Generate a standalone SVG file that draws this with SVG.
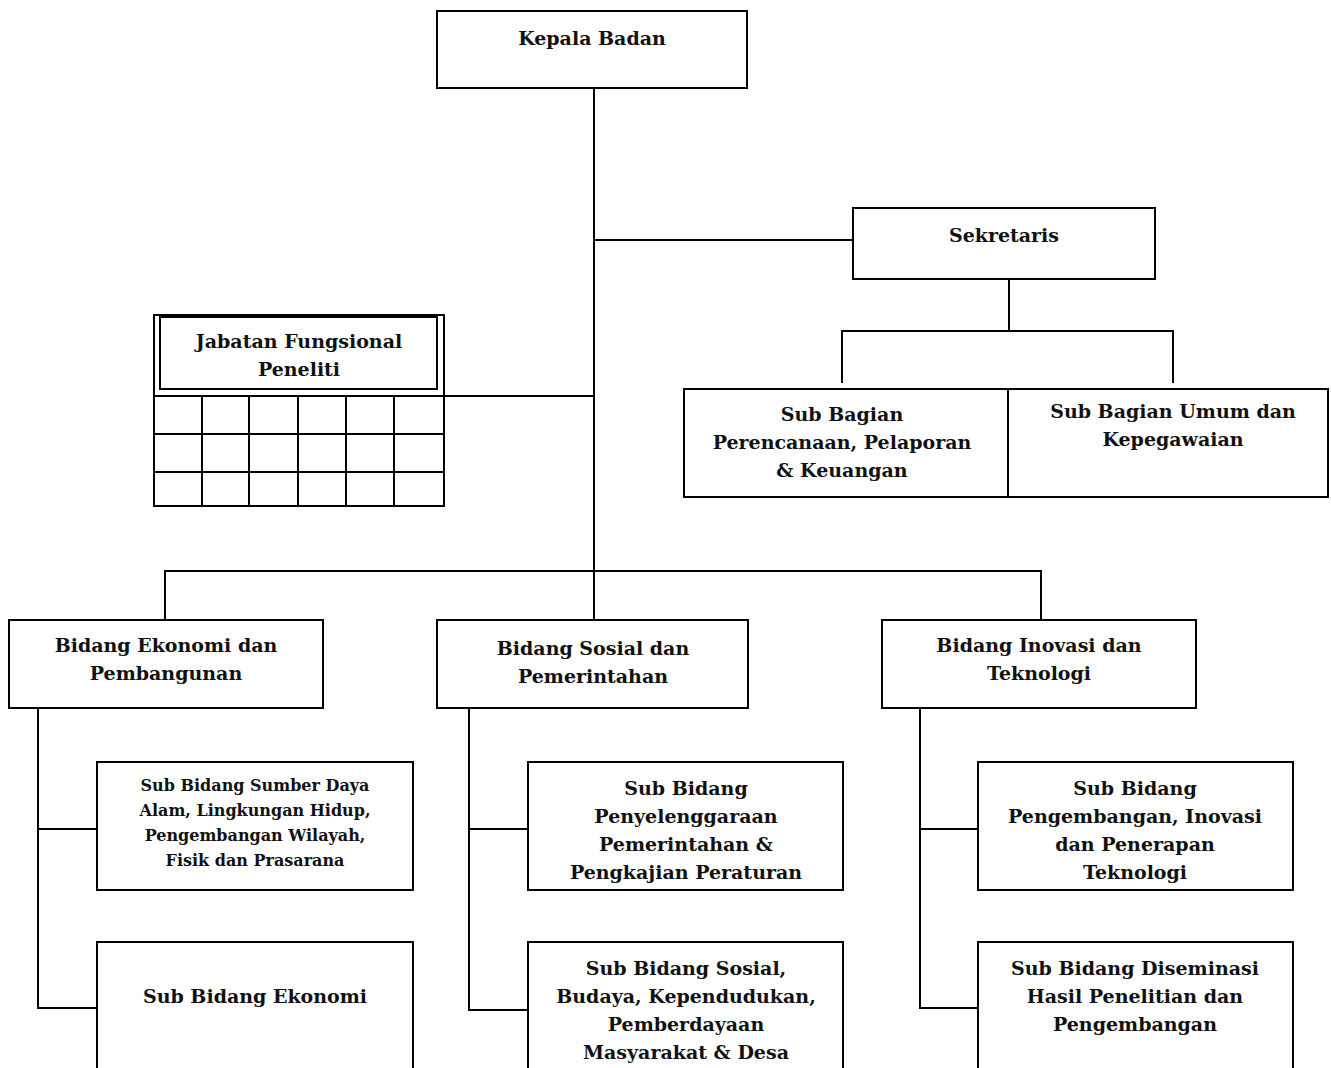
<svg xmlns="http://www.w3.org/2000/svg" width="1331" height="1068" viewBox="0 0 1331 1068">
<style>
.b{fill:#fff;stroke:#000;stroke-width:2}
.l{fill:none;stroke:#000;stroke-width:2}
text{font-family:"DejaVu Serif","Liberation Serif",serif;font-weight:bold;font-size:19px;text-anchor:middle;fill:#111}
.s{font-size:16px}
</style>
<rect width="1331" height="1068" fill="#fff"/>
<g id="connectors">
<path class="l" d="M594,88V620M594,240H853M1009,279V331M842,383V331H1173V383M444,396H594M165,620V571H1041V620"/>
<path class="l" d="M38,708V1008H97M38,829H97M469,708V1010H528M469,829H528M920,708V1008H978M920,829H978"/>
</g>
<g id="kepala"><rect class="b" x="437" y="11" width="310" height="77"/><text x="592" y="45">Kepala Badan</text></g>
<g id="sekretaris"><rect class="b" x="853" y="208" width="302" height="71"/><text x="1004" y="242">Sekretaris</text></g>
<g id="jabatan">
<rect class="b" x="154" y="315" width="290" height="191"/>
<rect class="b" x="160" y="317" width="277" height="72"/>
<path class="l" d="M154,396H444M154,434H444M154,472H444M202,396V506M249,396V506M298,396V506M346,396V506M394,396V506"/>
<text x="299" y="348">Jabatan Fungsional</text><text x="299" y="376">Peneliti</text>
</g>
<g id="subbag1"><rect class="b" x="684" y="389" width="324" height="108"/><text x="842" y="421">Sub Bagian</text><text x="842" y="449">Perencanaan, Pelaporan</text><text x="842" y="477">&amp; Keuangan</text></g>
<g id="subbag2"><rect class="b" x="1008" y="389" width="320" height="108"/><text x="1173" y="418">Sub Bagian Umum dan</text><text x="1173" y="446">Kepegawaian</text></g>
<g id="bidang1"><rect class="b" x="9" y="620" width="314" height="88"/><text x="166" y="652">Bidang Ekonomi dan</text><text x="166" y="680">Pembangunan</text></g>
<g id="bidang2"><rect class="b" x="437" y="620" width="311" height="88"/><text x="593" y="655">Bidang Sosial dan</text><text x="593" y="683">Pemerintahan</text></g>
<g id="bidang3"><rect class="b" x="882" y="620" width="314" height="88"/><text x="1039" y="652">Bidang Inovasi dan</text><text x="1039" y="680">Teknologi</text></g>
<g id="sub1a"><rect class="b" x="97" y="762" width="316" height="128"/><text class="s" x="255" y="791">Sub Bidang Sumber Daya</text><text class="s" x="255" y="816">Alam, Lingkungan Hidup,</text><text class="s" x="255" y="841">Pengembangan Wilayah,</text><text class="s" x="255" y="866">Fisik dan Prasarana</text></g>
<g id="sub1b"><rect class="b" x="97" y="942" width="316" height="140"/><text x="255" y="1003">Sub Bidang Ekonomi</text></g>
<g id="sub2a"><rect class="b" x="528" y="762" width="315" height="128"/><text x="686" y="795">Sub Bidang</text><text x="686" y="823">Penyelenggaraan</text><text x="686" y="851">Pemerintahan &amp;</text><text x="686" y="879">Pengkajian Peraturan</text></g>
<g id="sub2b"><rect class="b" x="528" y="942" width="315" height="140"/><text x="686" y="975">Sub Bidang Sosial,</text><text x="686" y="1003">Budaya, Kependudukan,</text><text x="686" y="1031">Pemberdayaan</text><text x="686" y="1059">Masyarakat &amp; Desa</text></g>
<g id="sub3a"><rect class="b" x="978" y="762" width="315" height="128"/><text x="1135" y="795">Sub Bidang</text><text x="1135" y="823">Pengembangan, Inovasi</text><text x="1135" y="851">dan Penerapan</text><text x="1135" y="879">Teknologi</text></g>
<g id="sub3b"><rect class="b" x="978" y="942" width="315" height="140"/><text x="1135" y="975">Sub Bidang Diseminasi</text><text x="1135" y="1003">Hasil Penelitian dan</text><text x="1135" y="1031">Pengembangan</text></g>
</svg>
